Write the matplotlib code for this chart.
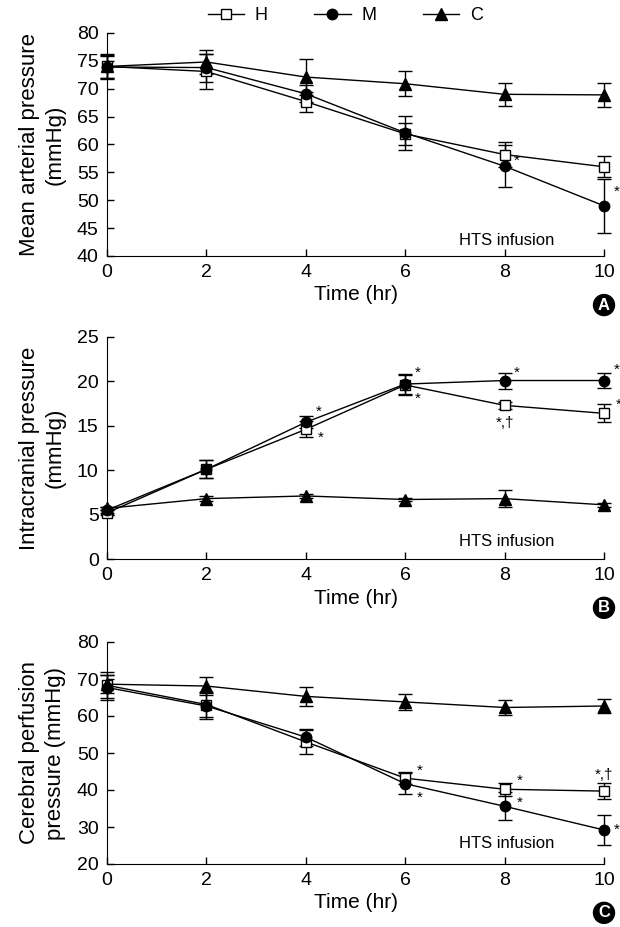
import matplotlib

matplotlib.use("Agg")
import matplotlib.pyplot as plt
from matplotlib.lines import Line2D

plt.rcParams["font.family"] = ["Liberation Sans Narrow", "Liberation Sans", "DejaVu Sans"]

time_hr = [0, 2, 4, 6, 8, 10]
groups = ["H", "M", "C"]

# panel A: mean arterial pressure
map_h = [74.0, 73.1, 67.7, 61.9, 58.2, 56.0]
map_m = [73.9, 73.8, 69.1, 62.1, 56.1, 49.0]
map_c = [74.0, 74.8, 72.1, 70.9, 69.0, 68.9]
map_h_err = [2.0, 3.2, 1.8, 2.0, 2.2, 1.9]
map_m_err = [2.0, 2.5, 1.5, 3.0, 3.8, 4.8]
map_c_err = [2.2, 2.1, 3.2, 2.2, 2.1, 2.2]

# panel B: intracranial pressure
icp_h = [5.2, 10.1, 14.6, 19.6, 17.3, 16.4]
icp_m = [5.5, 10.1, 15.4, 19.7, 20.1, 20.1]
icp_c = [5.7, 6.8, 7.1, 6.7, 6.8, 6.1]
icp_h_err = [0.3, 1.0, 0.9, 1.1, 0.4, 1.0]
icp_m_err = [0.3, 1.0, 0.7, 1.1, 0.9, 0.8]
icp_c_err = [0.2, 0.3, 0.2, 0.2, 1.0, 0.2]

# panel C: cerebral perfusion pressure
cpp_h = [68.3, 63.1, 53.0, 43.2, 40.2, 39.7]
cpp_m = [67.7, 62.7, 54.3, 41.7, 35.6, 29.2]
cpp_c = [68.6, 68.1, 65.3, 63.8, 62.3, 62.7]
cpp_h_err = [3.5, 3.5, 3.3, 1.6, 1.7, 2.2]
cpp_m_err = [3.5, 3.4, 2.3, 2.8, 3.8, 4.0]
cpp_c_err = [2.5, 2.5, 2.6, 2.2, 2.0, 2.0]

# significance marks: (x, y, text)
marks_a = [(8.25, 57.0, "*"), (10.25, 51.5, "*")]
marks_b = [(4.25, 16.6, "*"), (4.3, 13.6, "*"), (6.25, 21.0, "*"), (6.25, 18.0, "*"),
           (8.25, 21.0, "*"), (8.0, 15.3, "*,\u2020"), (10.25, 21.3, "*"), (10.3, 17.4, "*")]
marks_c = [(6.3, 45.3, "*"), (6.3, 37.8, "*"), (8.3, 42.5, "*"), (8.3, 36.5, "*"),
           (10.0, 44.0, "*,\u2020"), (10.25, 29.2, "*")]

styles = {
    "H": dict(marker="s", markerfacecolor="white", markersize=7),
    "M": dict(marker="o", markerfacecolor="black", markersize=7.5),
    "C": dict(marker="^", markerfacecolor="black", markersize=8),
}


def draw_panel(ax, series, errs, marks, ylim, yticks, ylabel, htxt_y, letter):
    for name, y, e in zip(groups, series, errs):
        ax.errorbar(time_hr, y, yerr=e, color="black", linewidth=1.0, elinewidth=1.0,
                    capsize=5, capthick=1.0, markeredgecolor="black",
                    markeredgewidth=1.0, clip_on=False, zorder=3, **styles[name])
    for x, y, t in marks:
        ax.text(x, y, t, fontsize=11, ha="center", va="center")
    ax.text(8.05, htxt_y, "HTS infusion", fontsize=12, ha="center", va="center")
    ax.set_xlim(0, 10)
    ax.set_ylim(*ylim)
    ax.set_xticks(time_hr)
    ax.set_yticks(yticks)
    ax.spines["top"].set_visible(False)
    ax.spines["right"].set_visible(False)
    ax.tick_params(direction="in", length=5, width=1, labelsize=14, pad=6)
    ax.set_xlabel("Time (hr)", fontsize=15, labelpad=3)
    ax.set_ylabel(ylabel, fontsize=16, linespacing=1.3, labelpad=8)
    ax.text(1.0, -0.22, letter, transform=ax.transAxes, ha="center", va="center",
            color="white", fontsize=12, fontweight="bold",
            bbox=dict(boxstyle="circle,pad=0.18", facecolor="black", edgecolor="black"))


fig = plt.figure(figsize=(6.2, 9.27), dpi=100)
left, width = 107 / 620, 497 / 620
ax_a = fig.add_axes([left, 1 - 256 / 927, width, 223 / 927])
ax_b = fig.add_axes([left, 1 - 559 / 927, width, 222 / 927])
ax_c = fig.add_axes([left, 1 - 864 / 927, width, 222 / 927])

draw_panel(ax_a, [map_h, map_m, map_c], [map_h_err, map_m_err, map_c_err], marks_a,
           (40, 80), range(40, 81, 5), "Mean arterial pressure\n(mmHg)", 42.8, "A")
draw_panel(ax_b, [icp_h, icp_m, icp_c], [icp_h_err, icp_m_err, icp_c_err], marks_b,
           (0, 25), range(0, 26, 5), "Intracranial pressure\n(mmHg)", 2.0, "B")
draw_panel(ax_c, [cpp_h, cpp_m, cpp_c], [cpp_h_err, cpp_m_err, cpp_c_err], marks_c,
           (20, 80), range(20, 81, 10), "Cerebral perfusion\npressure (mmHg)", 25.5, "C")

handles = [Line2D([], [], color="black", linewidth=1.0, markeredgecolor="black", **styles[g])
           for g in groups]
fig.legend(handles, groups, loc="center", bbox_to_anchor=(0.557, 1 - 16 / 927), ncol=3,
           frameon=False, fontsize=13, handlelength=2.0, columnspacing=2.6, handletextpad=0.6)

fig.savefig("out.png", dpi=100)
